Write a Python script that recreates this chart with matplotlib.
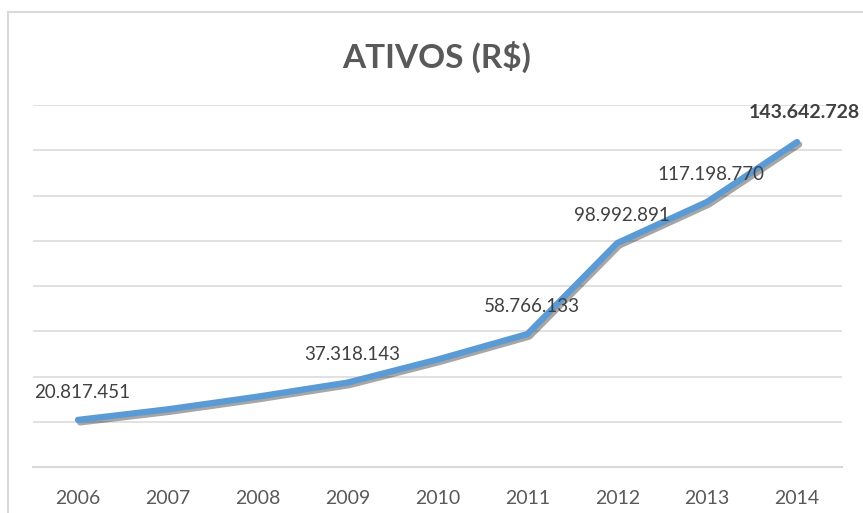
import matplotlib
matplotlib.use("Agg")
import matplotlib.pyplot as plt
import matplotlib.patheffects as pe
from matplotlib.patches import Rectangle

years = ["2006", "2007", "2008", "2009", "2010", "2011", "2012", "2013", "2014"]
values = [20817451, 25500000, 31100000, 37318143, 47500000, 58766133, 98992891, 117198770, 143642728]
labels = ["20.817.451", None, None, "37.318.143", None, "58.766.133", "98.992.891", "117.198.770", "143.642.728"]
title = "ATIVOS (R$)"

plt.rcParams['font.family'] = ['Lato', 'DejaVu Sans']

W, H = 863, 513
fig = plt.figure(figsize=(W / 100, H / 100), dpi=100)
fig.patch.set_facecolor("white")

# chart border (light grey), extends past right/bottom edges
fig.add_artist(Rectangle((7.5 / W, -0.1), 1.2, (H - 12.5) / H + 0.1, transform=fig.transFigure,
                         fill=False, edgecolor="#D9D9D9", linewidth=1.5))

left, right, bottom, top = 33, 842, 467, 105
ax = fig.add_axes([left / W, (H - bottom) / H, (right - left) / W, (bottom - top) / H])
x = list(range(len(years)))
ax.set_xlim(-0.5, len(years) - 0.5)
ax.set_ylim(0, 160000000)
ax.set_yticks(range(0, 160000001, 20000000))
ax.yaxis.grid(True, color="#D9D9D9", linewidth=1.1)
ax.set_axisbelow(True)
ax.tick_params(axis="y", left=False, labelleft=False)
ax.tick_params(axis="x", bottom=False, labelsize=14, colors="#595959", pad=13)
ax.set_xticks(x)
ax.set_xticklabels(years)
for s in ["top", "right", "left"]:
    ax.spines[s].set_visible(False)
ax.spines["bottom"].set_color("#D9D9D9")
ax.spines["bottom"].set_linewidth(1.5)

ax.plot(x, values, color="#5B9BD5", linewidth=4.5, solid_capstyle="round", solid_joinstyle="round",
        path_effects=[pe.SimpleLineShadow(offset=(1.5, -1.8), shadow_color="black", alpha=0.35),
                      pe.Normal()], zorder=3)

for i, (v, lab) in enumerate(zip(values, labels)):
    if lab is None:
        continue
    last = i == len(values) - 1
    ax.annotate(lab, (i, v), xytext=(5 if last else 3, 21 if last else 20), textcoords="offset points",
                ha="center", va="center", fontsize=14 if last else 13.5,
                fontweight="bold" if last else "normal", color="#404040", zorder=4,
                annotation_clip=False)

fig.text(437 / W, 1 - 57 / H, title, ha="center", va="center", fontsize=24,
         fontweight="bold", color="#595959")

fig.savefig("out.png", dpi=100)
